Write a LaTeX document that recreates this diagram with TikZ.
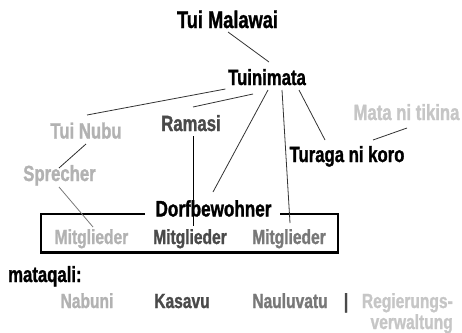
\documentclass[tikz,border=0pt]{standalone}
\usepackage{fontspec}
\setmainfont{Liberation Sans}[FakeStretch=0.76, BoldFeatures={FakeBold=1.2}]
\definecolor{tonedark}{HTML}{4A4A4A}
\definecolor{tonemid}{HTML}{787878}
\definecolor{tonelight}{HTML}{B2B2B2}
\definecolor{tonepale}{HTML}{C6C6C6}
\definecolor{linkgray}{HTML}{333333}
\begin{document}
\begin{tikzpicture}[x=1pt,y=-1pt,
  lbl/.style={inner sep=0pt, anchor=base, font=\bfseries\fontsize{22}{25}\selectfont},
  small/.style={lbl, font=\bfseries\fontsize{20.5}{22}\selectfont},
  link/.style={draw=linkgray, line width=0.8pt},
  frame/.style={draw=black, line width=2.7pt, line join=miter}]
\useasboundingbox (0,0) rectangle (462,332);

% hierarchy labels
\node[lbl, font=\bfseries\fontsize{24}{27}\selectfont] (tmw) at (227.5,28) {Tui Malawai};
\node[lbl] (tm) at (267,85) {Tuinimata};
\node[lbl, text=tonelight] (tn) at (86,138.5) {Tui Nubu};
\node[lbl, text=tonedark] (ra) at (191,131) {Ramasi};
\node[lbl, text=tonepale] (mt) at (406.5,120) {Mata ni tikina};
\node[lbl] (tk) at (347,162) {Turaga ni koro};
\node[lbl, text=tonelight] (sp) at (59.5,181) {Sprecher};
\node[lbl, font=\bfseries\fontsize{22.5}{25}\selectfont] (db) at (213.5,216.5) {Dorfbewohner};

% members inside the village frame
\node[small, text=tonelight] (m1) at (91.5,244) {Mitglieder};
\node[small, text=tonedark] (m2) at (190,244) {Mitglieder};
\node[small, text=tonemid] (m3) at (289,244) {Mitglieder};

% frame with a gap for the heading
\draw[frame] (145,214) -- (41,214) -- (41,252.7) -- (338,252.7) -- (338,214) -- (280,214);

% mataqali row
\node[lbl, anchor=base west] (mq) at (8,282) {mataqali:};
\node[small, text=tonelight] (nb) at (87,308) {Nabuni};
\node[small, text=tonedark] (ks) at (182,308) {Kasavu};
\node[small, text=tonemid] (nv) at (290,308) {Nauluvatu};
\node[small, text=tonedark] (bar) at (346,308) {|};
\node[small, text=tonepale, anchor=base east] (rg) at (453,308) {Regierungs-};
\node[small, text=tonepale, anchor=base east] (vw) at (453,329) {verwaltung};

% connectors
\draw[link] ([shift={(0.5,4)}]tmw.base) -- ([shift={(2,-23)}]tm.base);
\draw[link] ([shift={(-2.5,4)}]tm.base west) -- ([shift={(1,-23.5)}]tn.base);
\draw[link] ([shift={(-14,9)}]tm.base) -- ([shift={(2,-24)}]ra.base);
\draw[link] ([shift={(1,5)}]tm.base) -- ([shift={(-0.5,-24.5)}]db.base);
\draw[link] ([shift={(15,5)}]tm.base) -- ([shift={(1,-21)}]m3.base);
\draw[link] ([shift={(32,5)}]tm.base) -- ([shift={(-22,-22)}]tk.base);
\draw[link] ([shift={(0.5,8)}]mt.base) -- ([shift={(26,-22)}]tk.base);
\draw[link] ([shift={(0,5.5)}]tn.base) -- ([shift={(-0.5,-13)}]sp.base);
\draw[link, draw=tonemid] ([shift={(-0.5,6)}]sp.base) -- ([shift={(1.5,-17)}]m1.base);
\draw[link, draw=black] ([shift={(2,5)}]ra.base) -- ([shift={(3,-18)}]m2.base);
\end{tikzpicture}
\end{document}
